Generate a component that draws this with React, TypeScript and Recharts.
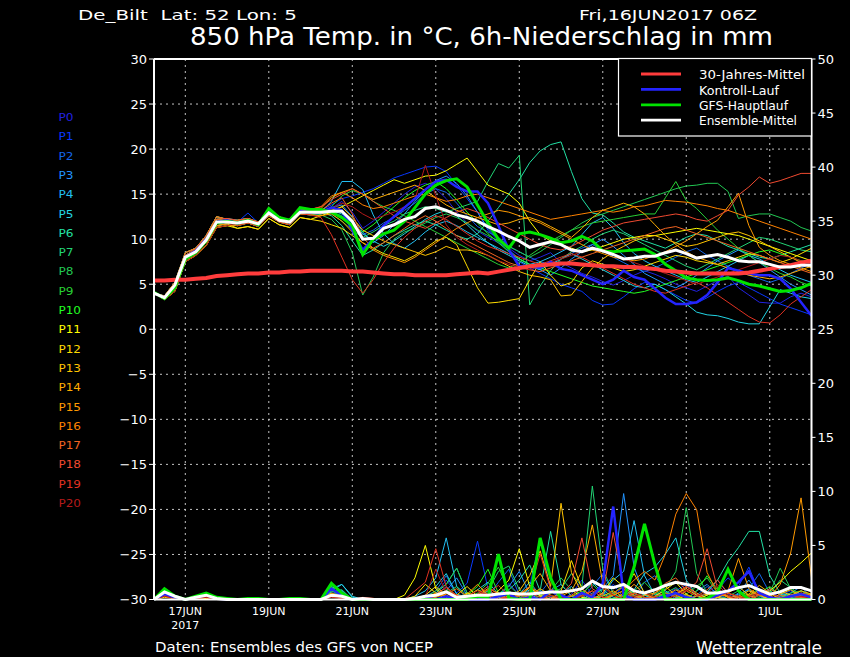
import React from 'react'
import {
  LineChart,
  Line,
  XAxis,
  YAxis,
  CartesianGrid,
  ReferenceLine,
} from 'recharts'

// time axis: 6-hourly steps from 16JUN2017 06Z (hour 0) to 02JUL 00Z (hour 378)
const hours = Array.from({ length: 64 }, (_, i) => i * 6)

const dateTicks = [18, 66, 114, 162, 210, 258, 306, 354]
const dateLabels = ['17JUN', '19JUN', '21JUN', '23JUN', '25JUN', '27JUN', '29JUN', '1JUL']
const tempTicks = [-30, -25, -20, -15, -10, -5, 0, 5, 10, 15, 20, 25, 30]
const precTicks = [0, 5, 10, 15, 20, 25, 30, 35, 40, 45, 50]

// 850 hPa temperature, °C
const clim = [
  5.4, 5.4, 5.5, 5.5, 5.6, 5.7, 5.9, 6.0,
  6.1, 6.2, 6.2, 6.3, 6.3, 6.4, 6.4, 6.5,
  6.5, 6.5, 6.5, 6.4, 6.4, 6.3, 6.2, 6.1,
  6.1, 6.0, 6.0, 6.0, 6.0, 6.1, 6.2, 6.3,
  6.2, 6.4, 6.6, 6.8, 7.0, 7.1, 7.2, 7.3,
  7.3, 7.2, 7.1, 7.0, 7.0, 6.9, 6.9, 6.8,
  6.7, 6.5, 6.4, 6.3, 6.2, 6.2, 6.2, 6.2,
  6.2, 6.3, 6.5, 6.7, 6.9, 7.1, 7.4, 7.6,
]

const ctrl = [
  4.0, 3.5, 4.8, 8.0, 8.7, 10.0, 11.9, 12.1,
  11.8, 12.1, 11.6, 13.0, 12.2, 11.9, 13.1, 13.0,
  13.0, 13.5, 13.2, 11.0, 8.8, 10.0, 11.5, 12.5,
  13.5, 14.5, 15.5, 16.4, 16.6, 15.8, 15.3, 15.3,
  14.0, 11.5, 8.8, 7.0, 7.0, 6.8, 7.5, 6.7,
  6.5, 6.0, 5.5, 5.0, 5.5, 6.5, 5.8, 5.5,
  4.5, 3.5, 2.8, 2.8, 3.0, 3.8, 5.2, 6.8,
  6.5, 6.2, 6.0, 6.0, 5.6, 4.5, 3.0, 1.5,
]

const gfs = [
  4.1, 3.4, 4.6, 7.8, 8.5, 9.8, 11.8, 12.0,
  11.8, 12.1, 11.6, 13.4, 12.4, 12.1, 13.5, 13.3,
  13.3, 13.0, 12.4, 11.5, 8.3, 10.0, 10.6, 11.0,
  12.0, 13.5, 15.0, 16.0, 16.5, 16.7, 15.8, 13.8,
  11.8, 10.0, 9.0, 10.6, 10.8, 10.5, 10.1, 9.6,
  9.8, 10.3, 9.8, 8.7, 8.6, 8.7, 8.8, 8.9,
  8.3, 7.2, 6.5, 5.7, 5.5, 5.4, 5.5, 5.7,
  5.4, 5.0, 4.8, 4.5, 4.2, 4.3, 4.6, 5.1,
]

const ensMean = [
  4.0, 3.5, 4.9, 8.0, 8.6, 9.9, 11.9, 11.9,
  11.8, 12.0, 11.7, 12.9, 12.1, 11.9, 13.0, 13.0,
  13.0, 13.1, 13.1, 12.0, 10.0, 10.1, 11.2, 11.6,
  12.2, 12.5, 13.4, 13.6, 13.2, 12.7, 12.4, 12.0,
  11.4, 10.9, 10.3, 9.8, 9.1, 9.4, 9.7, 9.4,
  8.8, 8.6, 9.0, 8.7, 8.3, 7.8, 7.9, 8.1,
  8.1, 8.5, 8.8, 8.4, 7.9, 8.1, 8.3, 8.0,
  7.6, 7.5, 7.5, 7.2, 6.9, 6.9, 7.1, 7.1,
]

const t0 = [
  4.0, 3.4, 4.6, 7.9, 8.6, 9.9, 11.8, 12.0,
  11.8, 12.0, 11.7, 12.9, 12.2, 11.9, 13.1, 13.0,
  13.0, 13.4, 14.2, 13.0, 11.2, 12.0, 13.0, 14.0,
  15.0, 15.8, 16.2, 15.6, 14.5, 13.0, 11.8, 10.9,
  10.2, 9.6, 9.0, 8.2, 7.6, 8.0, 8.5, 7.4,
  6.8, 6.2, 5.8, 5.3, 4.9, 5.4, 6.0, 6.5,
  6.1, 5.6, 5.0, 4.6, 4.2, 4.8, 5.4, 5.9,
  4.6, 3.8, 3.0, 2.9, 2.9, 3.6, 4.0, 3.6,
]
const t1 = [
  4.1, 3.6, 5.0, 8.2, 8.9, 10.2, 12.2, 12.3,
  11.9, 12.9, 11.8, 13.0, 12.3, 12.2, 13.3, 13.2,
  13.2, 13.8, 14.5, 14.8, 15.2, 15.6, 16.2, 16.8,
  17.2, 17.6, 18.0, 18.1, 17.5, 16.0, 14.5, 13.0,
  11.0, 9.8, 8.6, 7.5, 6.8, 6.2, 5.6, 5.0,
  4.6, 4.2, 3.2, 2.7, 2.8, 3.6, 4.5, 5.2,
  5.0, 4.4, 3.8, 3.2, 2.9, 3.5, 4.2, 4.8,
  5.2, 4.6, 4.0, 3.4, 2.8, 2.4, 2.0, 1.6,
]
const t2 = [
  3.9, 3.5, 4.4, 7.7, 8.4, 9.6, 11.5, 11.7,
  11.5, 11.8, 11.4, 12.6, 11.9, 11.6, 12.8, 12.7,
  12.8, 13.0, 12.6, 11.8, 10.5, 11.0, 11.8, 12.4,
  13.2, 14.0, 15.0, 15.6, 15.2, 14.0, 12.6, 11.4,
  10.8, 10.2, 9.2, 8.6, 8.0, 7.5, 7.2, 7.8,
  8.4, 9.0, 9.4, 8.8, 8.0, 7.4, 6.8, 6.4,
  6.8, 7.4, 8.0, 8.6, 9.0, 8.2, 7.6, 7.0,
  6.4, 6.0, 5.6, 5.2, 5.6, 6.2, 6.8, 7.3,
]
const t3 = [
  4.0, 3.7, 5.2, 8.5, 9.0, 10.4, 12.5, 12.2,
  12.1, 12.3, 11.9, 13.2, 12.5, 12.0, 13.4, 13.3,
  13.1, 13.5, 13.8, 12.5, 10.8, 9.6, 10.4, 11.6,
  12.8, 14.2, 15.4, 16.5, 17.0, 16.2, 14.8, 13.0,
  11.2, 10.0, 8.8, 7.8, 7.2, 6.6, 6.0, 6.8,
  7.8, 8.6, 9.4, 10.0, 9.2, 8.2, 7.2, 6.2,
  5.6, 5.0, 4.6, 5.2, 6.0, 6.8, 7.6, 8.2,
  8.8, 8.2, 7.4, 6.6, 5.8, 5.0, 4.4, 3.8,
]
const t4 = [
  4.0, 3.4, 4.6, 7.9, 8.6, 9.9, 11.8, 12.0,
  11.8, 12.0, 11.7, 12.9, 12.2, 11.9, 13.1, 13.0,
  13.0, 14.2, 16.4, 16.4, 15.5, 12.7, 10.6, 9.5,
  9.0, 9.8, 10.8, 11.6, 12.0, 11.5, 10.8, 10.2,
  9.6, 9.0, 8.4, 7.8, 7.2, 7.5, 8.0, 8.6,
  9.2, 10.5, 11.8, 12.4, 11.2, 9.6, 8.4, 7.6,
  7.0, 6.5, 6.0, 5.5, 5.2, 5.8, 6.4, 7.0,
  7.6, 8.2, 7.8, 7.2, 6.6, 6.0, 5.6, 5.2,
]
const t5 = [
  4.1, 3.6, 5.0, 8.2, 8.9, 10.2, 12.2, 12.3,
  12.1, 12.3, 11.9, 13.2, 12.5, 12.0, 13.4, 13.3,
  12.9, 13.2, 12.8, 11.8, 10.6, 9.8, 9.2, 9.8,
  10.6, 11.4, 12.2, 12.8, 13.2, 12.6, 11.6, 10.5,
  9.6, 8.8, 8.2, 7.6, 7.0, 6.6, 7.2, 7.8,
  8.4, 7.8, 7.2, 6.6, 6.0, 5.4, 4.8, 4.6,
  5.0, 4.4, 3.6, 2.8, 1.9, 1.6, 1.5, 1.2,
  0.8, 0.6, 0.6, 2.5, 4.4, 4.0, 3.6, 3.4,
]
const t6 = [
  3.9, 3.5, 4.4, 7.7, 8.4, 9.6, 11.5, 11.7,
  11.5, 11.8, 11.4, 12.6, 11.9, 11.6, 12.8, 12.7,
  13.0, 12.6, 11.5, 9.8, 8.2, 8.8, 9.6, 10.4,
  11.0, 11.6, 12.0, 11.6, 11.0, 10.4, 10.0, 10.6,
  12.0, 13.5, 15.0, 16.6, 18.5, 19.8, 20.5, 20.8,
  17.5, 14.5, 12.9, 12.7, 11.8, 10.8, 10.2, 9.8,
  9.4, 9.0, 9.6, 10.2, 10.6, 10.4, 9.8, 9.2,
  8.8, 8.4, 8.0, 7.8, 8.2, 8.6, 9.0, 9.4,
]
const t7 = [
  4.0, 3.7, 5.2, 8.5, 9.0, 10.4, 12.5, 12.2,
  11.9, 12.1, 11.8, 13.0, 12.3, 12.1, 13.2, 13.1,
  13.2, 12.8, 12.0, 11.0, 10.2, 10.8, 11.5, 12.0,
  12.8, 13.2, 13.6, 13.4, 13.0, 13.4, 13.8, 14.2,
  16.4, 18.4, 17.9, 19.3, 2.7, 4.8, 6.5, 7.8,
  8.6, 9.2, 10.0, 10.6, 11.0, 10.6, 10.0, 9.4,
  8.8, 8.2, 7.6, 7.0, 6.6, 7.2, 7.8, 8.4,
  9.0, 9.6, 10.2, 10.0, 9.6, 9.2, 8.8, 8.6,
]
const t8 = [
  4.0, 3.3, 4.2, 7.5, 8.2, 9.3, 11.3, 11.5,
  11.8, 12.0, 11.7, 12.9, 12.2, 11.9, 13.1, 13.0,
  12.7, 12.2, 11.0, 8.5, 3.8, 5.8, 8.5, 10.0,
  10.8, 11.2, 11.8, 12.4, 12.8, 12.4, 11.8, 11.0,
  10.4, 9.8, 9.2, 8.6, 8.0, 8.6, 9.4, 10.2,
  11.0, 11.8, 12.4, 12.8, 13.2, 13.6, 14.0, 14.4,
  14.8, 15.2, 15.6, 15.9, 16.0, 16.2, 16.2, 15.3,
  12.3, 12.6, 12.8, 12.8, 12.4, 12.0, 11.3, 10.9,
]
const t9 = [
  4.1, 3.6, 5.0, 8.2, 8.9, 10.2, 12.2, 12.3,
  11.5, 11.8, 11.4, 12.6, 11.9, 11.6, 12.8, 12.7,
  12.9, 13.6, 14.8, 15.4, 15.0, 14.2, 13.6, 13.2,
  12.6, 12.0, 11.4, 10.8, 10.2, 9.6, 9.0, 8.4,
  7.8, 7.2, 6.8, 7.4, 8.2, 9.0, 9.8, 10.4,
  11.0, 11.4, 11.8, 12.0, 12.2, 12.4, 12.6, 12.8,
  12.8, 14.6, 16.4, 14.3, 13.4, 12.2, 11.0, 10.0,
  9.0, 8.2, 7.4, 6.8, 6.2, 5.8, 5.2, 4.8,
]
const t10 = [
  4.0, 3.4, 4.6, 7.9, 8.6, 9.9, 11.8, 12.0,
  12.1, 12.3, 11.9, 13.2, 12.5, 12.0, 13.4, 13.3,
  13.3, 13.0, 12.4, 11.6, 10.8, 11.6, 12.6, 13.6,
  14.6, 15.4, 16.0, 16.4, 15.6, 14.4, 13.0, 11.8,
  10.6, 9.6, 8.6, 7.8, 7.2, 6.8, 6.4, 6.0,
  5.6, 5.2, 4.8, 4.6, 4.4, 4.2, 4.0, 4.2,
  4.6, 5.0, 5.4, 5.8, 6.2, 6.6, 7.0, 7.4,
  7.8, 8.2, 8.6, 8.8, 8.4, 8.0, 7.6, 7.4,
]
const t11 = [
  4.0, 3.3, 4.2, 7.5, 8.2, 9.3, 11.3, 11.5,
  11.2, 11.4, 11.1, 12.3, 11.6, 11.3, 12.4, 12.2,
  12.6, 13.0, 13.6, 14.2, 14.8, 15.4, 16.0, 16.6,
  16.2, 16.6, 17.0, 17.1, 17.6, 18.3, 19.0, 17.5,
  16.0, 15.5, 15.0, 14.0, 12.0, 10.5, 9.8, 9.4,
  9.0, 8.6, 8.8, 9.2, 9.6, 10.0, 10.2, 10.4,
  10.4, 10.6, 10.8, 11.0, 11.2, 11.0, 10.8, 10.6,
  10.4, 10.0, 9.6, 9.2, 8.8, 8.4, 8.0, 7.6,
]
const t12 = [
  3.9, 3.5, 4.4, 7.7, 8.4, 9.6, 11.5, 11.7,
  11.2, 11.4, 11.1, 12.3, 11.6, 11.3, 12.4, 12.2,
  12.0, 11.6, 11.2, 10.4, 9.6, 9.0, 8.4, 8.0,
  7.6, 8.2, 9.0, 9.8, 10.2, 9.4, 7.0, 4.6,
  2.9, 3.0, 3.2, 3.4, 5.5, 7.5, 6.0, 4.8,
  5.2, 6.8, 7.6, 7.2, 6.8, 6.4, 6.6, 7.0,
  7.4, 7.8, 8.2, 8.0, 7.6, 7.4, 7.2, 7.6,
  8.0, 8.4, 8.2, 7.8, 7.4, 7.8, 8.4, 9.0,
]
const t13 = [
  4.0, 3.7, 5.2, 8.5, 9.0, 10.4, 12.5, 12.2,
  11.8, 12.0, 11.7, 12.9, 12.2, 11.9, 13.1, 13.0,
  12.8, 13.2, 13.6, 12.4, 11.0, 10.4, 9.8, 9.4,
  9.0, 8.6, 8.2, 8.6, 9.2, 8.8, 8.8, 8.6,
  8.2, 7.6, 7.0, 6.4, 6.0, 5.8, 5.5, 3.7,
  3.8, 5.3, 6.8, 7.8, 8.6, 9.2, 9.8, 10.2,
  10.4, 10.0, 9.6, 9.2, 9.4, 9.8, 10.2, 10.6,
  10.8, 10.4, 9.8, 9.2, 8.6, 8.0, 7.4, 6.8,
]
const t14 = [
  4.1, 3.6, 5.0, 8.2, 8.9, 10.2, 12.2, 12.3,
  11.9, 12.1, 11.8, 13.0, 12.3, 12.1, 13.2, 13.1,
  13.4, 14.6, 15.2, 15.6, 15.0, 14.4, 14.8, 15.2,
  15.6, 16.0, 15.4, 14.6, 13.8, 13.2, 12.8, 12.4,
  12.0, 11.6, 11.8, 12.2, 12.4, 12.0, 11.4, 10.8,
  10.2, 11.2, 12.4, 13.2, 13.6, 14.0, 13.6, 12.8,
  11.6, 10.4, 9.4, 8.6, 8.0, 7.6, 7.2, 6.8,
  6.4, 6.0, 5.8, 5.6, 5.8, 6.2, 6.6, 7.0,
]
const t15 = [
  4.0, 3.3, 4.2, 7.5, 8.2, 9.3, 11.3, 11.5,
  11.5, 11.8, 11.4, 12.6, 11.9, 11.6, 12.8, 12.7,
  12.6, 12.8, 12.0, 10.8, 9.6, 8.8, 8.2, 7.8,
  7.4, 8.0, 8.8, 9.6, 10.4, 11.2, 11.8, 12.4,
  12.8, 13.2, 13.0, 12.6, 12.2, 11.8, 11.2, 10.6,
  10.0, 9.4, 8.8, 8.4, 8.0, 7.8, 7.6, 7.8,
  8.2, 8.6, 9.2, 9.8, 10.6, 11.4, 12.1, 13.6,
  15.1, 11.5, 9.1, 8.2, 7.6, 7.2, 6.8, 6.4,
]
const t16 = [
  3.9, 3.5, 4.4, 7.7, 8.4, 9.6, 11.5, 11.7,
  12.1, 12.3, 11.9, 13.2, 12.5, 12.0, 13.4, 13.3,
  13.6, 14.8, 15.2, 14.6, 13.8, 13.4, 13.6, 14.0,
  14.4, 14.8, 15.0, 14.6, 14.2, 14.4, 14.8, 15.0,
  14.6, 14.2, 13.8, 13.4, 13.0, 12.6, 12.2, 12.4,
  12.6, 12.8, 13.0, 13.2, 13.0, 13.2, 13.6, 13.7,
  14.0, 14.3, 14.2, 14.1, 13.9, 13.7, 13.4, 13.2,
  12.8, 12.4, 12.0, 11.6, 11.2, 10.8, 10.4, 10.0,
]
const t17 = [
  4.0, 3.7, 5.2, 8.5, 9.0, 10.4, 12.5, 12.2,
  11.8, 12.0, 11.7, 12.9, 12.2, 11.9, 13.1, 13.0,
  13.2, 14.0, 14.6, 12.8, 10.2, 9.0, 9.6, 10.4,
  11.2, 12.0, 12.6, 12.0, 11.2, 10.4, 9.8, 9.2,
  8.6, 8.0, 7.4, 7.0, 6.6, 6.4, 6.8, 7.2,
  7.6, 8.0, 8.4, 8.8, 9.2, 9.6, 10.0, 10.4,
  10.8, 11.2, 11.4, 11.0, 10.6, 10.2, 9.8, 9.4,
  9.0, 8.6, 8.2, 7.8, 7.4, 7.0, 6.6, 6.2,
]
const t18 = [
  4.1, 3.6, 5.0, 8.2, 8.9, 10.2, 12.2, 12.3,
  12.1, 12.3, 11.9, 13.2, 12.5, 12.0, 13.4, 13.3,
  13.6, 14.4, 15.0, 15.6, 15.0, 14.2, 13.4, 12.6,
  12.0, 11.6, 11.2, 11.8, 12.4, 13.0, 13.4, 13.0,
  12.4, 11.8, 11.2, 10.6, 10.0, 9.4, 9.0, 8.8,
  9.2, 9.8, 10.4, 11.0, 11.4, 11.8, 12.0, 12.2,
  12.4, 12.6, 12.8, 12.6, 12.2, 12.0, 12.6, 13.2,
  14.9, 15.8, 16.9, 16.2, 16.5, 16.9, 17.3, 17.3,
]
const t19 = [
  4.0, 3.4, 4.6, 7.9, 8.6, 9.9, 11.8, 12.0,
  11.5, 11.8, 11.4, 12.6, 11.9, 11.6, 12.8, 12.7,
  12.4, 10.5, 8.0, 5.5, 4.0, 5.5, 7.4, 9.0,
  10.2, 11.2, 12.0, 12.6, 12.2, 11.4, 10.6, 9.8,
  9.2, 8.8, 8.4, 8.0, 7.6, 7.2, 7.6, 8.0,
  8.4, 8.0, 7.4, 6.8, 6.2, 5.6, 5.0, 4.6,
  4.2, 4.0, 4.4, 4.8, 5.2, 4.6, 3.8, 3.0,
  2.2, 1.4, 0.8, 0.7, 1.6, 2.8, 3.6, 4.4,
]
const t20 = [
  4.0, 3.3, 4.2, 7.5, 8.2, 9.3, 11.3, 11.5,
  11.8, 12.0, 11.7, 12.9, 12.2, 11.9, 13.1, 13.0,
  12.9, 13.4, 14.0, 13.6, 12.8, 12.2, 12.6, 13.0,
  13.6, 14.4, 18.2, 14.8, 11.6, 10.2, 9.4, 8.8,
  8.2, 7.6, 7.2, 6.8, 6.6, 7.0, 7.4, 7.8,
  8.2, 8.6, 9.0, 8.6, 8.2, 7.8, 7.4, 7.0,
  6.6, 6.2, 5.8, 5.4, 5.0, 5.4, 5.8, 6.2,
  6.6, 7.0, 7.4, 7.8, 8.2, 8.0, 7.6, 7.2,
]

// 6h precipitation, mm
const prCtrl = [
  0, 0.5, 0.2, 0, 0.2, 0.4, 0.1, 0,
  0, 0, 0, 0, 0, 0, 0, 0,
  0, 1.0, 0.4, 0, 0, 0, 0, 0,
  0, 0, 0.2, 0, 0.3, 0, 0, 0,
  0, 0.3, 0.5, 0, 0.2, 0, 0.8, 0.4,
  0, 0.6, 0.2, 1.5, 8.6, 0.4, 0, 0,
  0, 0.3, 0.6, 0.2, 0, 0, 0.4, 0.8,
  1.6, 2.6, 0.6, 0.2, 0, 0.3, 0.5, 0.2,
]
const prGfs = [
  0, 1.0, 0.3, 0, 0.3, 0.6, 0.2, 0.1,
  0, 0.1, 0.1, 0, 0, 0.1, 0.1, 0,
  0, 1.5, 0.6, 0, 0, 0, 0, 0,
  0, 0, 0, 0, 0, 0, 0, 0.3,
  0.2, 4.2, 0.1, 0, 0, 5.7, 2.0, 0,
  0, 0, 0, 0, 0, 0, 3.0, 7.0,
  3.2, 0, 0, 0, 0, 0.1, 0.7, 2.8,
  0.8, 0, 0, 0, 0, 0, 0, 0,
]
const prMean = [
  0, 0.7, 0.3, 0, 0.2, 0.4, 0.1, 0,
  0, 0, 0, 0, 0, 0, 0, 0,
  0, 0.4, 0.3, 0, 0.1, 0, 0, 0,
  0, 0.1, 0.3, 0.4, 0.7, 0.2, 0.3, 0.4,
  0.4, 0.5, 0.6, 0.5, 0.5, 0.6, 0.7, 0.7,
  0.8, 1.0, 1.7, 1.2, 1.1, 1.4, 0.8, 0.6,
  0.9, 1.3, 1.6, 1.4, 1.2, 0.6, 0.6, 0.8,
  1.1, 1.3, 0.9, 0.5, 0.7, 1.1, 1.1, 0.8,
]

const r0 = [
  0, 0.4, 0.1, 0, 0.1, 0.3, 0, 0,
  0, 0, 0, 0, 0, 0, 0, 0,
  0, 0.8, 0.3, 0, 0, 0, 0, 0,
  0, 0, 0, 0.4, 1.2, 0.3, 0, 0.2,
  0.6, 0, 1.5, 0.4, 0, 0.8, 0.3, 0,
  0.5, 1.8, 0.4, 0, 0.3, 1.2, 0.6, 0,
  0, 0.4, 1.0, 0.2, 0, 0.6, 1.8, 0.5,
  0, 0.3, 0, 0.8, 0.2, 0, 0.4, 0.1,
]
const r1 = [
  0, 0.3, 0.1, 0, 0.1, 0.2, 0, 0,
  0, 0, 0, 0, 0, 0, 0, 0,
  0, 0.9, 0.2, 0, 0, 0, 0, 0,
  0, 0.2, 0, 0.5, 1.8, 0.6, 1.5, 5.4,
  1.0, 0, 0.3, 0, 1.2, 5.7, 0.8, 0,
  0, 0.6, 0, 0.3, 1.4, 0.2, 0, 0.5,
  0, 0, 0.8, 1.4, 0.3, 0, 0.9, 2.0,
  1.2, 3.0, 0.6, 0, 0.4, 0.8, 0.2, 0,
]
const r2 = [
  0, 0.5, 0.2, 0, 0.2, 0.4, 0, 0,
  0, 0, 0, 0, 0, 0, 0, 0,
  0, 0.6, 0.5, 0, 0, 0, 0, 0,
  0, 0, 0.3, 0.8, 2.2, 0.5, 0, 0,
  0.3, 1.6, 2.8, 0.4, 0, 0.6, 1.8, 0.3,
  0, 0, 1.2, 2.4, 0.6, 0, 0.3, 1.6,
  2.2, 0.8, 0, 0, 0.4, 1.2, 0.6, 0,
  0.4, 1.0, 2.4, 0.6, 0, 0.2, 0.8, 0.3,
]
const r3 = [
  0, 0.6, 0.2, 0, 0.1, 0.3, 0, 0,
  0, 0, 0, 0, 0, 0, 0, 0,
  0, 1.2, 0.8, 0, 0, 0, 0, 0,
  0, 0, 0, 0.2, 0.8, 2.0, 0.4, 0,
  0, 0.4, 1.2, 2.6, 0.5, 0, 0.8, 1.4,
  0.3, 0, 0.6, 1.0, 2.2, 9.8, 3.0, 0.4,
  0, 0.6, 0.2, 0, 0.8, 1.4, 0.4, 0,
  0.6, 1.8, 0.4, 0, 0.3, 0.6, 1.2, 0.2,
]
const r4 = [
  0, 0.4, 0.2, 0, 0.2, 0.3, 0, 0,
  0, 0, 0, 0, 0, 0, 0, 0,
  0, 1.0, 1.4, 0.2, 0, 0, 0, 0,
  0, 0.3, 0.8, 2.0, 5.7, 1.2, 0, 0.3,
  0.8, 0.2, 0, 0.5, 1.6, 0.4, 0, 0.6,
  1.2, 0.3, 0, 0.4, 1.8, 2.6, 7.3, 2.2,
  0.4, 0.8, 0.2, 0, 0.3, 0.6, 0.2, 0,
  0.5, 0.9, 0.3, 0, 0.2, 0.5, 0.3, 0.1,
]
const r5 = [
  0, 0.5, 0.2, 0, 0.1, 0.2, 0, 0,
  0, 0, 0, 0, 0, 0, 0, 0,
  0, 0.8, 1.4, 0.3, 0, 0, 0, 0,
  0, 0, 0.4, 1.2, 2.4, 0.5, 0.2, 0.9,
  1.6, 0.5, 0, 0.3, 0.9, 0.4, 0.2, 0,
  0, 0.4, 1.6, 0.6, 0, 0.4, 0.9, 2.4,
  3.0, 4.2, 5.7, 1.8, 0.4, 0, 0.3, 0.6,
  0.2, 0, 0.4, 1.0, 0.5, 0.2, 0, 0.3,
]
const r6 = [
  0, 0.3, 0.1, 0, 0.1, 0.2, 0, 0,
  0, 0, 0, 0, 0, 0, 0, 0,
  0, 0.7, 0.9, 0, 0, 0, 0, 0,
  0, 0.2, 0, 0.6, 1.4, 2.9, 0.6, 0,
  0.4, 0.2, 0.9, 1.8, 3.2, 0.8, 6.3, 1.4,
  0.3, 0, 0.5, 0.9, 0.2, 0, 0.8, 0.4,
  0, 0.3, 0.6, 0.2, 0, 0.7, 1.8, 3.5,
  4.8, 6.3, 6.3, 2.2, 0.6, 0.3, 0.8, 0.4,
]
const r7 = [
  0, 0.4, 0.2, 0, 0.1, 0.2, 0, 0,
  0, 0, 0, 0, 0, 0, 0, 0,
  0, 0.9, 0.5, 0, 0, 0, 0, 0,
  0, 0, 0.3, 0.4, 0.6, 1.2, 0.4, 0,
  0.8, 2.6, 3.1, 0.9, 0.2, 0, 0.6, 1.0,
  2.4, 1.2, 10.5, 2.8, 0.6, 0, 0.4, 0.2,
  0, 0.6, 1.1, 0.3, 0, 0.4, 0.8, 0.2,
  0, 0.3, 0.9, 0.5, 1.8, 1.1, 0.4, 0.2,
]
const r8 = [
  0, 0.6, 0.2, 0, 0.2, 0.4, 0.1, 0,
  0, 0.1, 0, 0, 0, 0.1, 0, 0,
  0, 0.8, 0.4, 0, 0, 0, 0, 0,
  0, 0, 0.2, 0.8, 1.4, 2.9, 0.6, 0,
  0, 0.5, 1.3, 0.4, 0, 0.3, 0.8, 2.0,
  0.9, 0.2, 0, 0.4, 0.6, 1.2, 0.3, 0,
  0.5, 1.0, 2.6, 8.5, 2.4, 0.6, 0, 0.3,
  0.8, 0.4, 0.2, 0.6, 2.9, 1.0, 0.2, 0,
]
const r9 = [
  0, 0.5, 0.1, 0, 0.1, 0.3, 0, 0,
  0, 0, 0, 0, 0, 0, 0, 0,
  0, 1.1, 0.3, 0, 0, 0, 0, 0,
  0, 0, 0, 0.3, 0.9, 0.4, 0.2, 0.6,
  1.5, 3.0, 0.8, 0.2, 0, 0.4, 0.9, 0.3,
  0, 0.6, 1.4, 0.4, 0, 0.3, 0.8, 1.6,
  0.6, 0.2, 0, 0.5, 1.2, 2.0, 0.6, 0.3,
  0, 0.4, 1.0, 0.3, 0, 0.6, 0.8, 0.4,
]
const r10 = [
  0, 0.7, 0.3, 0, 0.2, 0.5, 0.2, 0.1,
  0, 0.1, 0.1, 0, 0, 0.1, 0, 0,
  0, 1.2, 0.3, 0, 0, 0, 0, 0,
  0, 0, 0.2, 0.5, 0.3, 0, 0.4, 1.2,
  2.8, 0.6, 0, 0.4, 0.2, 1.0, 0.4, 0,
  0.3, 0.8, 0.2, 0, 0.5, 1.4, 0.6, 0,
  0.2, 0.6, 0.3, 0, 0.8, 2.2, 0.9, 0.3,
  0, 0.2, 0.6, 1.2, 0.4, 0, 0.3, 0.2,
]
const r11 = [
  0, 0.3, 0.1, 0, 0.1, 0.2, 0, 0,
  0, 0, 0, 0, 0, 0, 0, 0,
  0, 0.4, 0.2, 0, 0, 0, 0, 0,
  0.4, 2.0, 5.0, 1.0, 0.2, 0, 0.6, 0.3,
  0, 0.8, 1.8, 4.7, 1.2, 0.3, 0, 0.5,
  0.9, 0.2, 0, 0.6, 2.0, 1.2, 0.4, 0,
  0.3, 0.9, 1.6, 0.5, 0, 0.4, 0.8, 0.2,
  0, 0.3, 0.6, 0.8, 1.6, 2.6, 3.4, 4.3,
]
const r12 = [
  0, 0.2, 0.1, 0, 0, 0.1, 0, 0,
  0, 0, 0, 0, 0, 0, 0, 0,
  0, 0.3, 0.1, 0, 0, 0, 0, 0,
  0, 0.3, 1.4, 0.6, 0, 0.4, 1.2, 0.3,
  0, 0.2, 0.6, 0.3, 1.1, 0.4, 0, 0.8,
  3.6, 1.0, 0.2, 0, 0.4, 0.8, 2.4, 0.6,
  0, 0.3, 0.5, 1.0, 0.4, 0, 0.2, 0.6,
  1.2, 0.4, 0, 0.3, 0.8, 0.4, 0.2, 0,
]
const r13 = [
  0, 0.4, 0.1, 0, 0.1, 0.2, 0, 0,
  0, 0, 0, 0, 0, 0, 0, 0,
  0, 0.5, 0.2, 0, 0, 0, 0, 0,
  0, 0, 0.4, 1.2, 0.4, 0, 0.3, 0.9,
  0.4, 0, 0.3, 0.8, 2.2, 4.5, 1.2, 8.9,
  2.5, 0.6, 0, 0.3, 0.8, 0.2, 0, 0.4,
  0.6, 1.2, 0.4, 0, 0.3, 0.5, 0.2, 0,
  0.3, 0.8, 0.4, 0, 0.5, 0.9, 0.3, 0.1,
]
const r14 = [
  0, 0.5, 0.2, 0, 0.2, 0.3, 0, 0,
  0, 0, 0, 0, 0, 0, 0, 0,
  0, 0.6, 0.3, 0, 0, 0, 0, 0,
  0, 0, 0, 0.3, 0.7, 0.3, 0, 0.4,
  1.0, 0.6, 0, 0.4, 1.2, 2.4, 0.8, 0.3,
  0.8, 2.6, 6.9, 1.5, 0.4, 0, 0.6, 0.2,
  0, 0.3, 0.9, 0.4, 0, 0.2, 0.6, 0.3,
  0.2, 0.5, 1.3, 0.6, 0, 0.4, 0.8, 0.5,
]
const r15 = [
  0, 0.3, 0.1, 0, 0.1, 0.2, 0, 0,
  0, 0, 0, 0, 0, 0, 0, 0,
  0, 0.4, 0.2, 0, 0, 0.1, 0, 0,
  0, 0, 0.2, 0.6, 0.3, 0, 0.5, 1.4,
  0.4, 0, 0.2, 0.6, 0.3, 0, 0.9, 0.5,
  0, 0.3, 0.8, 0.2, 0, 0.6, 1.4, 0.5,
  0.2, 0, 0.4, 1.2, 0.6, 0, 0.3, 0.8,
  3.8, 1.0, 0.4, 0.2, 1.4, 4.3, 9.4, 2.0,
]
const r16 = [
  0, 0.4, 0.2, 0, 0.2, 0.3, 0, 0,
  0, 0, 0, 0, 0, 0, 0, 0,
  0, 0.5, 0.3, 0, 0, 0, 0, 0,
  0, 0, 0, 0.2, 0.5, 1.0, 0.3, 0,
  0.3, 0.6, 0.2, 0, 0.4, 1.0, 0.4, 0,
  0.3, 0.6, 0.2, 0, 0.4, 0.8, 1.8, 2.6,
  1.8, 4.2, 7.9, 9.8, 8.3, 2.5, 0.6, 0.2,
  0, 0.4, 0.8, 0.3, 0, 0.2, 0.6, 0.4,
]
const r17 = [
  0, 0.5, 0.2, 0, 0.1, 0.3, 0, 0,
  0, 0, 0, 0, 0, 0, 0, 0,
  0, 0.4, 0.2, 0, 0.1, 0.1, 0, 0,
  0, 0, 0, 0.5, 1.1, 0.4, 0, 0.3,
  0.9, 0.3, 0, 0.5, 1.2, 0.6, 0.2, 0,
  0.4, 1.0, 0.3, 0, 0.6, 1.2, 0.4, 0,
  0.6, 1.5, 2.0, 0.8, 0.3, 0.9, 1.8, 0.6,
  0.2, 0, 0.5, 1.0, 0.4, 0.2, 0.6, 0.3,
]
const r18 = [
  0, 0.4, 0.1, 0, 0.1, 0.2, 0, 0,
  0, 0, 0, 0, 0, 0, 0, 0,
  0, 0.3, 0.1, 0, 0.1, 0, 0, 0,
  0, 0, 0, 0.3, 0.8, 0.4, 0.2, 0.5,
  1.2, 0.4, 0, 0.3, 0.6, 0.2, 0, 0.4,
  1.5, 5.7, 1.0, 0.4, 6.2, 1.0, 0.2, 0,
  0.3, 0.6, 0.2, 0.8, 1.6, 4.7, 1.0, 0.3,
  0, 0.2, 0.6, 0.3, 0, 0.4, 0.2, 0.1,
]
const r19 = [
  0, 0.3, 0.1, 0, 0.1, 0.2, 0, 0,
  0, 0, 0, 0, 0, 0, 0, 0,
  0, 0.2, 0.1, 0, 0.2, 0.1, 0, 0,
  0, 0.8, 1.6, 4.7, 1.2, 0.3, 0, 0.4,
  0.6, 1.3, 0.4, 0, 0.8, 4.2, 1.0, 0.2,
  0, 0.4, 0.8, 0.2, 0, 0.3, 0.6, 0.2,
  0, 0.3, 0.6, 1.2, 0.5, 0, 0.3, 0.6,
  0.3, 0, 0.4, 0.6, 0.2, 0, 0.3, 0.2,
]
const r20 = [
  0, 0.3, 0.1, 0, 0.1, 0.2, 0, 0,
  0, 0, 0, 0, 0, 0, 0, 0,
  0, 0.3, 0.1, 0, 0, 0.1, 0, 0,
  0, 0, 0.3, 2.8, 0.6, 0, 0.3, 0.8,
  0.4, 0, 0.2, 0.6, 0.3, 0, 0.4, 0.2,
  0, 0.3, 0.5, 1.2, 0.4, 0, 0.3, 0.6,
  0.2, 0, 0.4, 0.9, 0.3, 0.6, 1.4, 0.4,
  0, 0.3, 0.6, 0.2, 0, 0.4, 0.3, 0.1,
]

const memberTemps = [t0, t1, t2, t3, t4, t5, t6, t7, t8, t9, t10, t11, t12, t13, t14, t15, t16, t17, t18, t19, t20]
const memberPrec = [r0, r1, r2, r3, r4, r5, r6, r7, r8, r9, r10, r11, r12, r13, r14, r15, r16, r17, r18, r19, r20]

const MEMBER_COLORS = [
  '#2222e0', '#0838ff', '#1466e8', '#2294ff', '#22bff2', '#22d4e4', '#22e0a4',
  '#22d474', '#22c853', '#28d034', '#22ff22', '#ffff00', '#ffdc00', '#ffc400',
  '#ffae00', '#ff9a00', '#ff8200', '#f26422', '#f04a30', '#e03222', '#b41a1a',
]

const CTRL_COLOR = '#2424ff'
const GFS_COLOR = '#00e400'
const CLIM_COLOR = '#ff3c3c'
const FONT = '"DejaVu Sans", sans-serif'

const rows = hours.map((h, i) => {
  const r: Record<string, number> = {
    h,
    clim: clim[i],
    ctrl: ctrl[i],
    gfs: gfs[i],
    mean: ensMean[i],
    prCtrl: prCtrl[i],
    prGfs: prGfs[i],
    prMean: prMean[i],
  }
  memberTemps.forEach((m, k) => { r['t' + k] = m[i] })
  memberPrec.forEach((m, k) => { r['r' + k] = m[i] })
  return r
})

const minus = (v: number) => String(v).replace('-', '\u2212')

// date under each tick, the year once more under the first one
function DateTick({ x, payload }: { x?: number; payload?: { value: number } }) {
  const idx = dateTicks.indexOf(payload?.value ?? -1)
  return (
    <g>
      <text x={x} y={614.5} textAnchor="middle" fill="#fff" fontSize={11} fontFamily={FONT}>
        {dateLabels[idx]}
      </text>
      {idx === 0 && (
        <text x={x} y={628.5} textAnchor="middle" fill="#fff" fontSize={11} fontFamily={FONT}>
          2017
        </text>
      )}
    </g>
  )
}

const LEGEND = [
  { label: '30-Jahres-Mittel', color: CLIM_COLOR, w: 106 },
  { label: 'Kontroll-Lauf', color: CTRL_COLOR, w: 80 },
  { label: 'GFS-Hauptlauf', color: GFS_COLOR, w: 89 },
  { label: 'Ensemble-Mittel', color: '#ffffff', w: 98 },
]

export default function App() {
  return (
    <div style={{ position: 'absolute', left: 0, top: 0, width: 850, height: 657, background: '#000', overflow: 'hidden' }}>
      <LineChart
        width={850}
        height={657}
        data={rows}
        margin={{ top: 59, right: 0, bottom: 27.5, left: 94 }}
      >
        <CartesianGrid yAxisId="t" stroke="#c4c4c4" strokeDasharray="2 4" strokeWidth={1} />
        <XAxis
          dataKey="h"
          type="number"
          domain={[0, 378]}
          ticks={dateTicks}
          height={30}
          tick={<DateTick />}
          tickLine={false}
          axisLine={{ stroke: '#fff', strokeWidth: 2 }}
          interval={0}
        />
        <YAxis
          yAxisId="t"
          domain={[-30, 30]}
          ticks={tempTicks}
          width={60}
          interval={0}
          tickFormatter={minus}
          tick={{ fill: '#fff', fontSize: 13, fontFamily: FONT }}
          tickLine={{ stroke: '#fff' }}
          tickSize={5}
          axisLine={{ stroke: '#fff', strokeWidth: 2 }}
        />
        <YAxis
          yAxisId="p"
          orientation="right"
          domain={[0, 50]}
          ticks={precTicks}
          width={38.5}
          interval={0}
          tick={{ fill: '#fff', fontSize: 13, fontFamily: FONT }}
          tickLine={{ stroke: '#fff' }}
          tickSize={4}
          axisLine={{ stroke: '#fff', strokeWidth: 2 }}
        />
        <ReferenceLine yAxisId="t" y={30} stroke="#fff" strokeWidth={2} />

        {memberPrec.map((_, k) => (
          <Line key={'r' + k} yAxisId="p" type="linear" dataKey={'r' + k} stroke={MEMBER_COLORS[k]}
            strokeWidth={1} dot={false} activeDot={false} isAnimationActive={false} />
        ))}
        {memberTemps.map((_, k) => (
          <Line key={'t' + k} yAxisId="t" type="linear" dataKey={'t' + k} stroke={MEMBER_COLORS[k]}
            strokeWidth={1} dot={false} activeDot={false} isAnimationActive={false} />
        ))}
        <Line yAxisId="p" type="linear" dataKey="prCtrl" stroke={CTRL_COLOR} strokeWidth={2.5} dot={false} activeDot={false} isAnimationActive={false} />
        <Line yAxisId="t" type="linear" dataKey="ctrl" stroke={CTRL_COLOR} strokeWidth={2.5} dot={false} activeDot={false} isAnimationActive={false} />
        <Line yAxisId="p" type="linear" dataKey="prGfs" stroke={GFS_COLOR} strokeWidth={3} dot={false} activeDot={false} isAnimationActive={false} />
        <Line yAxisId="t" type="linear" dataKey="gfs" stroke={GFS_COLOR} strokeWidth={3} dot={false} activeDot={false} isAnimationActive={false} />
        <Line yAxisId="t" type="linear" dataKey="clim" stroke={CLIM_COLOR} strokeWidth={4} dot={false} activeDot={false} isAnimationActive={false} />
        <Line yAxisId="p" type="linear" dataKey="prMean" stroke="#fff" strokeWidth={3} dot={false} activeDot={false} isAnimationActive={false} />
        <Line yAxisId="t" type="linear" dataKey="mean" stroke="#fff" strokeWidth={3} dot={false} activeDot={false} isAnimationActive={false} />
      </LineChart>

      <svg width={850} height={657} style={{ position: 'absolute', left: 0, top: 0, pointerEvents: 'none' }} fontFamily={FONT}>
        <text x={78} y={19.5} fill="#fff" fontSize={14} textLength={219} lengthAdjust="spacingAndGlyphs" style={{ whiteSpace: 'pre' }}>
          {'De_Bilt  Lat: 52 Lon: 5'}
        </text>
        <text x={579} y={19.5} fill="#fff" fontSize={14} textLength={178} lengthAdjust="spacingAndGlyphs">
          Fri,16JUN2017 06Z
        </text>
        <text x={190} y={45} fill="#fff" fontSize={24} textLength={583} lengthAdjust="spacingAndGlyphs">
          850 hPa Temp. in °C, 6h-Niederschlag in mm
        </text>

        {MEMBER_COLORS.map((c, k) => (
          <text key={k} x={58.5} y={121 + k * 19.3} fill={c} fontSize={11}
            textLength={k < 10 ? 15 : 22.5} lengthAdjust="spacingAndGlyphs">
            {'P' + k}
          </text>
        ))}

        <rect x={618.5} y={58.5} width={193} height={77.5} fill="#000" stroke="#fff" strokeWidth={1.2} />
        {LEGEND.map((l, k) => (
          <g key={l.label}>
            <line x1={641} x2={681} y1={74 + k * 15.4} y2={74 + k * 15.4} stroke={l.color} strokeWidth={2.8} />
            <text x={699} y={79.3 + k * 15.3} fill="#fff" fontSize={12} textLength={l.w} lengthAdjust="spacingAndGlyphs">
              {l.label}
            </text>
          </g>
        ))}

        <text x={155} y={652} fill="#fff" fontSize={14} textLength={278} lengthAdjust="spacingAndGlyphs">
          Daten: Ensembles des GFS von NCEP
        </text>
        <text x={696} y={653.5} fill="#fff" fontSize={17} textLength={126} lengthAdjust="spacingAndGlyphs">
          Wetterzentrale
        </text>
      </svg>
    </div>
  )
}
